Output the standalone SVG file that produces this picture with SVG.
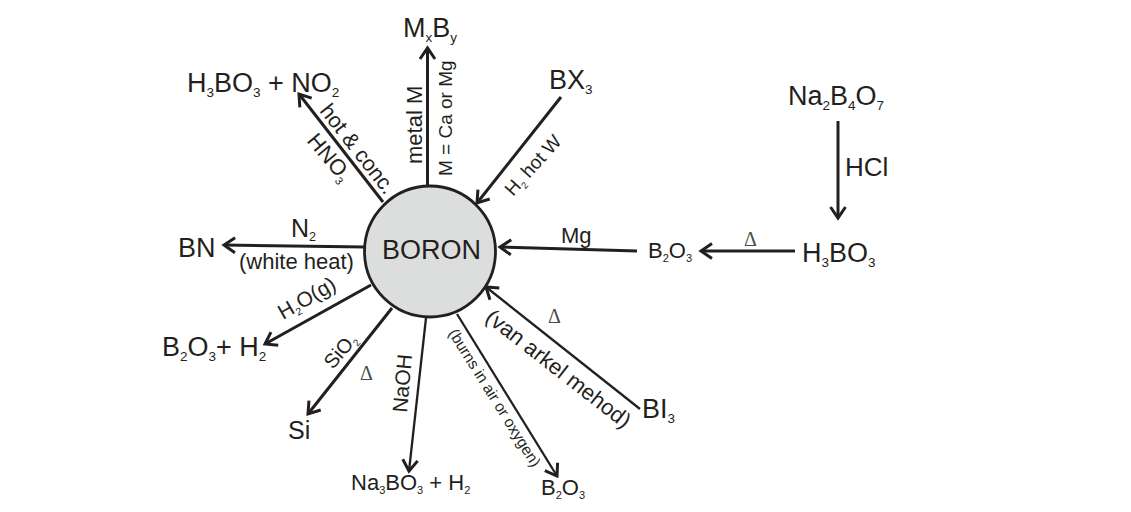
<svg xmlns="http://www.w3.org/2000/svg" width="1131" height="512" viewBox="0 0 1131 512">
<style>
text{font-family:"Liberation Sans",Arial,sans-serif;fill:#231f20}
.l{font-size:27px}.m{font-size:22px}.s{font-size:21px}.xs{font-size:19px}
.d{font-family:"Liberation Serif",serif;font-size:20px;fill:#4a4a4a}
.b{font-size:.5em}
.c line{stroke:#231f20;stroke-width:3;fill:none}
.c line.t{stroke-width:2.300}
</style>
<defs>
<marker id="a" markerUnits="userSpaceOnUse" markerWidth="24" markerHeight="24" refX="16" refY="12" orient="auto" overflow="visible">
<path d="M5 4.500L16 12L5 19.500" fill="none" stroke="#231f20" stroke-width="3"/>
</marker>
</defs>
<rect width="1131" height="512" fill="#fff"/>
<g id="connectors" class="c">
<line x1="427.500" y1="186" x2="427.500" y2="48" marker-end="url(#a)"/>
<line x1="383" y1="202" x2="299" y2="94" marker-end="url(#a)"/>
<line x1="561" y1="97" x2="477" y2="203" marker-end="url(#a)"/>
<line x1="365" y1="247" x2="224" y2="245" marker-end="url(#a)"/>
<line x1="371" y1="285" x2="265" y2="344" marker-end="url(#a)"/>
<line x1="392" y1="308" x2="308" y2="414" marker-end="url(#a)"/>
<line class="t" x1="426" y1="318" x2="409" y2="471" marker-end="url(#a)"/>
<line class="t" x1="457" y1="314" x2="557" y2="476" marker-end="url(#a)"/>
<line class="t" x1="640" y1="409" x2="486" y2="287" marker-end="url(#a)"/>
<line x1="637" y1="251" x2="500" y2="247" marker-end="url(#a)"/>
<line x1="795" y1="251" x2="701" y2="251" marker-end="url(#a)"/>
<line x1="838" y1="121" x2="838" y2="218" marker-end="url(#a)"/>
</g>
<g id="boron">
<circle cx="430" cy="251.500" r="65.500" fill="#dcdddd" stroke="#231f20" stroke-width="2.800"/>
<text class="l" x="382" y="259">BORON</text>
</g>
<g id="mxby"><text class="l" x="403" y="37">M<tspan class="b" dy="5">x</tspan><tspan dy="-5">B</tspan><tspan class="b" dy="5">y</tspan></text></g>
<g id="hno3-product"><text class="l" x="187" y="92">H<tspan class="b" dy="5">3</tspan><tspan dy="-5">BO</tspan><tspan class="b" dy="5">3</tspan><tspan dy="-5"> + NO</tspan><tspan class="b" dy="5">2</tspan></text></g>
<g id="bx3"><text class="l" x="549" y="89">BX<tspan class="b" dy="5">3</tspan></text></g>
<g id="borax"><text class="l" x="788" y="105">Na<tspan class="b" dy="5">2</tspan><tspan dy="-5">B</tspan><tspan class="b" dy="5">4</tspan><tspan dy="-5">O</tspan><tspan class="b" dy="5">7</tspan></text></g>
<g id="bn"><text class="l" x="178" y="257">BN</text></g>
<g id="b2o3-h2"><text class="l" x="162" y="356">B<tspan class="b" dy="5">2</tspan><tspan dy="-5">O</tspan><tspan class="b" dy="5">3</tspan><tspan dy="-5">+ H</tspan><tspan class="b" dy="5">2</tspan></text></g>
<g id="si"><text x="288" y="439" style="font-size:25px">Si</text></g>
<g id="naborate"><text class="m" x="351" y="490">Na<tspan class="b" dy="4">3</tspan><tspan dy="-4">BO</tspan><tspan class="b" dy="4">3</tspan><tspan dy="-4"> + H</tspan><tspan class="b" dy="4">2</tspan></text></g>
<g id="b2o3-burn"><text class="m" x="541" y="495">B<tspan class="b" dy="4">2</tspan><tspan dy="-4">O</tspan><tspan class="b" dy="4">3</tspan></text></g>
<g id="bi3"><text class="l" x="642" y="418">BI<tspan class="b" dy="5">3</tspan></text></g>
<g id="b2o3-mid"><text class="m" x="648" y="258">B<tspan class="b" dy="4">2</tspan><tspan dy="-4">O</tspan><tspan class="b" dy="4">3</tspan></text></g>
<g id="h3bo3"><text class="l" x="802" y="262">H<tspan class="b" dy="5">3</tspan><tspan dy="-5">BO</tspan><tspan class="b" dy="5">3</tspan></text></g>
<g id="labels">
<text class="m" transform="translate(422,164) rotate(-90)">metal M</text>
<text class="xs" transform="translate(452,176) rotate(-90)">M = Ca or Mg</text>
<text style="font-size:21.500px" transform="translate(319,111) rotate(52)">hot &amp; conc.</text>
<text class="m" transform="translate(306,141) rotate(50)">HNO<tspan class="b" dy="4">3</tspan></text>
<text style="font-size:19px" transform="translate(513,197) rotate(-48)">H<tspan class="b" dy="4">2</tspan><tspan dy="-4"> hot W</tspan></text>
<text style="font-size:25px" x="291" y="237">N<tspan class="b" dy="4">2</tspan></text>
<text class="m" x="239" y="269">(white heat)</text>
<text class="s" transform="translate(283,320) rotate(-30)">H<tspan class="b" dy="4">2</tspan><tspan dy="-4">O(g)</tspan></text>
<text style="font-size:20px" transform="translate(333,370) rotate(-50)">SiO<tspan class="b" dy="4">2</tspan></text>
<text class="d" x="360" y="380">Δ</text>
<text class="s" transform="translate(407,413) rotate(-85)">NaOH</text>
<text style="font-size:15.500px" transform="translate(448,333) rotate(58)">(burns in air or oxygen)</text>
<text style="font-size:22px" transform="translate(484,320) rotate(38)">(van arkel mehod)</text>
<text class="d" x="548" y="323">Δ</text>
<text class="m" x="561" y="243">Mg</text>
<text class="d" x="744" y="246">Δ</text>
<text style="font-size:26px" x="845" y="176">HCl</text>
</g>
</svg>
